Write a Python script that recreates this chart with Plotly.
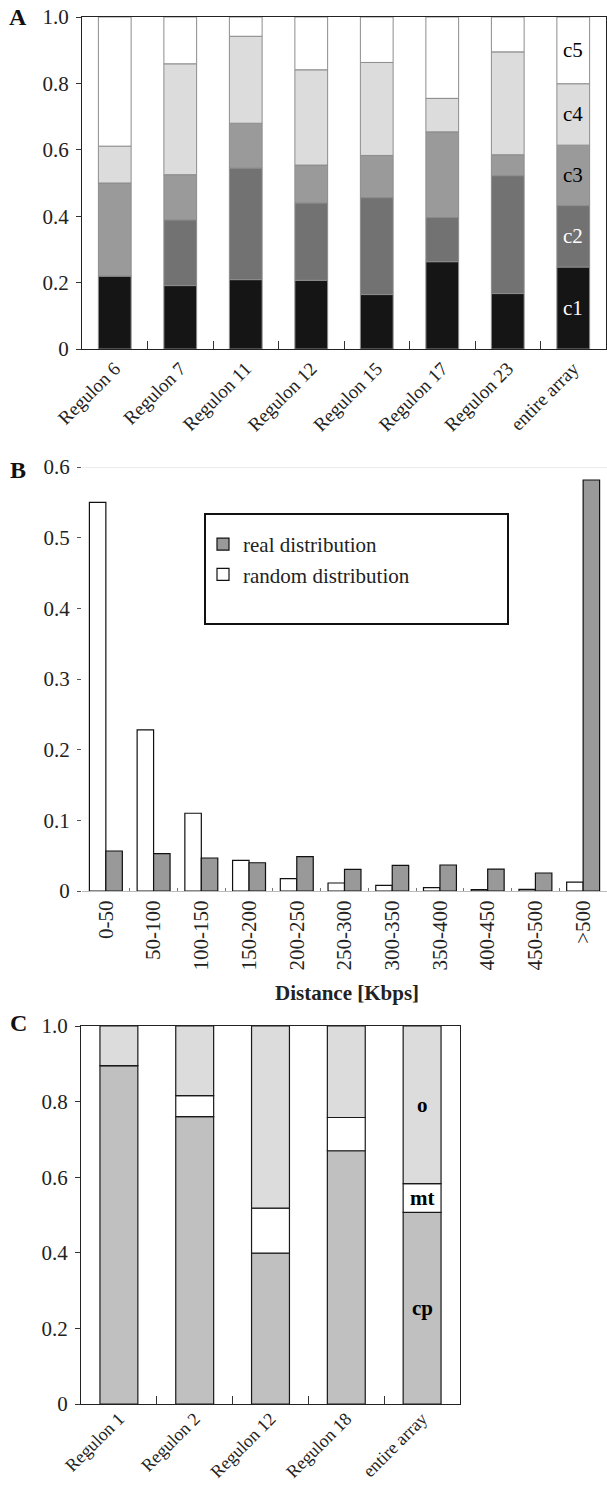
import numpy as np
import plotly.graph_objects as go

W, H = 607, 1488
SERIF = "Liberation Serif"

# ---------------- Panel A data ----------------
a_categories = ["Regulon 6", "Regulon 7", "Regulon 11", "Regulon 12",
                "Regulon 15", "Regulon 17", "Regulon 23", "entire array"]
a_c1 = [0.220, 0.191, 0.209, 0.207, 0.164, 0.263, 0.167, 0.247]
a_c2 = [0.000, 0.198, 0.336, 0.233, 0.292, 0.133, 0.355, 0.185]
a_c3 = [0.280, 0.136, 0.135, 0.114, 0.127, 0.258, 0.063, 0.182]
a_c4 = [0.111, 0.334, 0.262, 0.287, 0.280, 0.101, 0.310, 0.185]
a_c5 = [0.389, 0.141, 0.058, 0.159, 0.137, 0.245, 0.105, 0.201]
a_series_names = ["c1", "c2", "c3", "c4", "c5"]

# ---------------- Panel B data ----------------
b_categories = ["0-50", "50-100", "100-150", "150-200", "200-250", "250-300",
                "300-350", "350-400", "400-450", "450-500", ">500"]
b_random = [0.550, 0.228, 0.110, 0.0434, 0.0175, 0.0113, 0.0080, 0.0047, 0.0020, 0.0024, 0.0127]
b_real = [0.0566, 0.0530, 0.0467, 0.0400, 0.0486, 0.0307, 0.0363, 0.0368, 0.0310, 0.0255, 0.5816]

# ---------------- Panel C data ----------------
c_categories = ["Regulon 1", "Regulon 2", "Regulon 12", "Regulon 18", "entire array"]
c_cp = [0.895, 0.760, 0.399, 0.670, 0.507]
c_mt = [0.000, 0.056, 0.119, 0.088, 0.076]
c_o = [0.105, 0.184, 0.482, 0.242, 0.417]
c_series_names = ["cp", "mt", "o"]

a_tick_vals = [0, 0.2, 0.4, 0.6, 0.8, 1.0]
a_tick_text = ["0", "0.2", "0.4", "0.6", "0.8", "1.0"]
b_tick_vals = [0, 0.1, 0.2, 0.3, 0.4, 0.5, 0.6]
b_tick_text = ["0", "0.1", "0.2", "0.3", "0.4", "0.5", "0.6"]


def px(x):
    return x / W


def py(y):
    return 1 - y / H


fig = go.Figure()

# ---- Panel A stacked bars ----
a_colors = ["#151515", "#727272", "#9a9a9a", "#dcdcdc", "#ffffff"]
a_text_colors = ["white", "white", "black", "black", "black"]
a_vals = [a_c1, a_c2, a_c3, a_c4, a_c5]
a_base = np.zeros(len(a_categories))
annotations = []
for name, vals, col, tcol in zip(a_series_names, a_vals, a_colors, a_text_colors):
    vals = np.array(vals)
    fig.add_trace(go.Bar(
        x=a_categories, y=vals, base=a_base.copy(), name=name,
        marker=dict(color=col, line=dict(color="#8c8c8c", width=1)),
        width=0.5, offset=-0.25, xaxis="x", yaxis="y", showlegend=False,
    ))
    annotations.append(dict(
        x=a_categories[-1], y=a_base[-1] + vals[-1] / 2, xref="x", yref="y",
        text=name, showarrow=False, font=dict(family=SERIF, size=21, color=tcol),
    ))
    a_base = a_base + vals

# ---- Panel B grouped bars ----
fig.add_trace(go.Bar(
    x=b_categories, y=b_random, name="random distribution",
    marker=dict(color="white", line=dict(color="#111111", width=1.2)),
    xaxis="x2", yaxis="y2", legendgroup="rnd", legendrank=2,
))
fig.add_trace(go.Bar(
    x=b_categories, y=b_real, name="real distribution",
    marker=dict(color="#999999", line=dict(color="#111111", width=1.2)),
    xaxis="x2", yaxis="y2", legendgroup="real", legendrank=1,
))

# ---- Panel C stacked bars ----
c_colors = ["#c0c0c0", "#ffffff", "#dcdcdc"]
c_vals = [c_cp, c_mt, c_o]
c_base = np.zeros(len(c_categories))
for name, vals, col in zip(c_series_names, c_vals, c_colors):
    vals = np.array(vals)
    fig.add_trace(go.Bar(
        x=c_categories, y=vals, base=c_base.copy(), name=name,
        marker=dict(color=col, line=dict(color="#1a1a1a", width=1.2)),
        width=0.5, offset=-0.25, xaxis="x3", yaxis="y3", showlegend=False,
    ))
    annotations.append(dict(
        x=c_categories[-1], y=c_base[-1] + vals[-1] / 2, xref="x3", yref="y3",
        text="<b>" + name + "</b>", showarrow=False,
        font=dict(family=SERIF, size=21, color="black"),
    ))
    c_base = c_base + vals

# panel letters
for letter, (lx, ly) in zip(["A", "B", "C"], [(18, 17), (18, 470), (18, 1023)]):
    annotations.append(dict(
        x=px(lx), y=py(ly), xref="paper", yref="paper", text="<b>" + letter + "</b>",
        showarrow=False, font=dict(family=SERIF, size=24, color="#111"),
        xanchor="center", yanchor="middle",
    ))

# B x-axis title
annotations.append(dict(
    x=px(347), y=py(993), xref="paper", yref="paper", text="<b>Distance [Kbps]</b>",
    showarrow=False, font=dict(family=SERIF, size=21, color="#222"),
    xanchor="center", yanchor="middle",
))

shapes = [
    # legend box in panel B
    dict(type="rect", xref="paper", yref="paper", x0=px(205), x1=px(508),
         y0=py(624), y1=py(514), line=dict(color="#111", width=2), fillcolor="rgba(0,0,0,0)"),
    # top light line of panel B
    dict(type="line", xref="x2 domain", yref="y2", x0=0, x1=1, y0=0.6, y1=0.6,
         line=dict(color="#d8d8d8", width=1)),
]

tick_font = dict(family=SERIF, size=21, color="#222")

fig.update_layout(
    template="none",
    width=W, height=H, margin=dict(l=0, r=0, t=0, b=0, pad=0, autoexpand=False),
    paper_bgcolor="white", plot_bgcolor="white",
    barmode="group", bargap=0.31, bargroupgap=0,
    font=dict(family=SERIF, color="#222"),
    annotations=annotations, shapes=shapes,
    showlegend=True,
    legend=dict(x=px(203), y=py(524), xanchor="left", yanchor="top",
                bgcolor="rgba(0,0,0,0)", borderwidth=0,
                font=dict(family=SERIF, size=21, color="#222"),
                tracegroupgap=12, traceorder="normal"),
    # Panel A
    xaxis=dict(domain=[px(82), px(606)], anchor="y", type="category", automargin=False,
               showline=True, linecolor="#222", linewidth=1.2, mirror=True,
               ticks="inside", tickson="boundaries", ticklen=8, tickcolor="#333",
               tickangle=-45, tickfont=dict(family=SERIF, size=19, color="#222"),
               showgrid=False, zeroline=False),
    yaxis=dict(domain=[py(349), py(17)], anchor="x", range=[0, 1], automargin=False,
               showline=True, linecolor="#222", linewidth=1.2, mirror=True,
               ticks="outside", ticklen=5, tickcolor="#333",
               tickvals=a_tick_vals, ticktext=a_tick_text, tickfont=tick_font,
               showgrid=False, zeroline=False, ticklabelstandoff=3),
    # Panel B
    xaxis2=dict(domain=[px(82), px(607)], anchor="y2", type="category", automargin=False,
                showline=True, linecolor="#bbbbbb", linewidth=1,
                ticks="inside", tickson="boundaries", ticklen=3, tickcolor="#777",
                tickangle=-90, tickfont=tick_font, showgrid=False, zeroline=False),
    yaxis2=dict(domain=[py(891), py(467)], anchor="x2", range=[0, 0.6], automargin=False,
                showline=False, ticks="outside", ticklen=4, tickcolor="#555",
                tickvals=b_tick_vals, ticktext=b_tick_text, tickfont=tick_font,
                showgrid=False, zeroline=False, ticklabelstandoff=3),
    # Panel C
    xaxis3=dict(domain=[px(81), px(460)], anchor="y3", type="category", automargin=False,
                showline=True, linecolor="#222", linewidth=1.2, mirror=True,
                ticks="inside", tickson="boundaries", ticklen=8, tickcolor="#333",
                tickangle=-45, tickfont=dict(family=SERIF, size=18, color="#222"),
                ticklabelstandoff=-4,
                showgrid=False, zeroline=False),
    yaxis3=dict(domain=[py(1404), py(1026)], anchor="x3", range=[0, 1], automargin=False,
                showline=True, linecolor="#222", linewidth=1.2, mirror=True,
                ticks="outside", ticklen=5, tickcolor="#333",
                tickvals=a_tick_vals, ticktext=a_tick_text, tickfont=tick_font,
                showgrid=False, zeroline=False, ticklabelstandoff=3),
)

fig.write_html(
    "out.html",
    config={"displayModeBar": False},
    post_script="document.body.style.margin='0';document.body.style.overflow='hidden';",
)
